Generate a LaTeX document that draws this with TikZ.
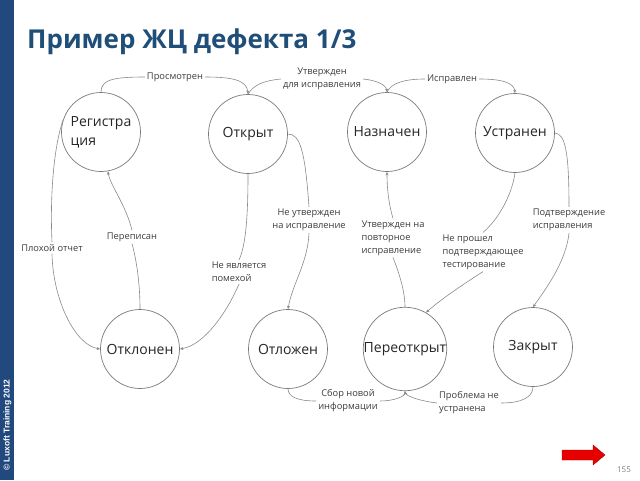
\documentclass[tikz,border=0pt]{standalone}
\usepackage{fontspec}
\setmainfont{Open Sans}
\newfontfamily\arialf{Liberation Sans}
\usetikzlibrary{arrows.meta}
\definecolor{titleblue}{HTML}{1F4E79}
\definecolor{barblue}{HTML}{22497E}
\definecolor{linegray}{HTML}{8A8A8A}
\definecolor{circgray}{HTML}{7A7A7A}
\definecolor{textgray}{HTML}{262626}
\definecolor{lblgray}{HTML}{3C3C3C}
\definecolor{arrred}{HTML}{E60000}
\definecolor{arrdark}{HTML}{B00000}
\begin{document}
\begin{tikzpicture}[x=1pt,y=-1pt,
 state/.style={circle,draw=circgray,line width=0.7pt,minimum size=79pt,inner sep=0pt,
   font=\fontsize{14}{19}\selectfont,text=textgray},
 lbl/.style={font=\fontsize{9.3}{13}\selectfont,text=lblgray,inner sep=2pt,align=left},
 lblc/.style={lbl,align=center},
 conn/.style={draw=linegray,line width=0.6pt},
 arr/.style={conn,-{Stealth[length=3.5pt,width=3pt]}}
]
\useasboundingbox (0,0) rectangle (640,480);
\fill[white] (0,0) rectangle (640,480);
\fill[barblue] (0,0) rectangle (14,480);
\node[rotate=90,text=white,font=\arialf\bfseries\fontsize{8.5}{8.5}\selectfont,inner sep=0pt] (copy) at (7.5,425) {© Luxoft Training 2012};
\node[anchor=base west,text=titleblue,font=\bfseries\fontsize{26}{28}\selectfont,inner sep=0pt] (title) at (27,48) {Пример ЖЦ дефекта 1/3};

% states
\node[state,align=left] (R) at (101,132) {Регистра\\ция};
\node[state] (O) at (248,134) {Открыт};
\node[state] (N) at (387,132) {Назначен};
\node[state] (U) at (515,133) {Устранен};
\node[state] (Otk) at (140,349) {Отклонен};
\node[state] (Otl) at (288,349) {Отложен};
\node[state] (P) at (405,349) {Переоткрыт};
\node[state] (Z) at (533,347) {Закрыт};

% labels
\node[lbl] (LP) at (175,77) {Просмотрен};
\node[lblc] (LU) at (322,79) {Утвержден\\для исправления};
\node[lbl] (LI) at (452,79) {Исправлен};
\node[lbl] (LPO) at (52,248) {Плохой отчет};
\node[lbl] (LPe) at (132,237) {Переписан};
\node[lbl] (LN) at (239,272) {Не является\\помехой};
\node[lblc] (LNU) at (309,220) {Не утвержден\\на исправление};
\node[lbl] (LUP) at (393,238) {Утвержден на\\повторное\\исправление};
\node[lbl] (LNP) at (483,252) {Не прошел\\подтверждающее\\тестирование};
\node[lbl] (LPI) at (569,220) {Подтверждение\\исправления};
\node[lblc] (LS) at (348,401) {Сбор новой\\информации};
\node[lbl] (LPr) at (469,403) {Проблема не\\устранена};

% connectors
\draw[conn] (R.north) .. controls (101,80) and (112,77) .. (LP.west);
\draw[arr] (LP.east) .. controls (232,77) and (247,80) .. (O.north);

\draw[conn] (O.north) .. controls (254,85) and (262,81) .. (LU.west);
\draw[arr] (LU.east) .. controls (374,80) and (386,84) .. (N.north);

\draw[conn] (N.north) .. controls (391,83) and (405,79) .. (LI.west);
\draw[arr] (LI.east) .. controls (503,79) and (514,83) .. (U.north);

\draw[conn] (R.163) .. controls (53,150) and (50,200) .. (LPO.north);
\draw[arr] (LPO.south) .. controls (53,300) and (75,345) .. (Otk.west);

\draw[conn] (Otk.north) .. controls (140,285) and (137,262) .. (LPe.south);
\draw[arr] (LPe.north) .. controls (126,205) and (110,185) .. (R.-80);

\draw[conn] (O.south) .. controls (248,215) and (246,245) .. (LN.north);
\draw[arr] (LN.south) .. controls (228,310) and (205,345) .. (Otk.east);

\draw[conn] (O.east) .. controls (300,134) and (305,150) .. (LNU.north);
\draw[arr] (LNU.south) .. controls (308,262) and (292,285) .. (Otl.north);

\draw[conn] (P.north) .. controls (405,290) and (398,270) .. (LUP.south);
\draw[arr] (LUP.north) .. controls (389,205) and (387,190) .. (N.south);

\draw[conn] (U.south) .. controls (512,195) and (498,220) .. (LNP.north);
\draw[arr] (LNP.south) .. controls (462,285) and (440,300) .. (P.60);

\draw[conn] (U.east) .. controls (565,134) and (569,150) .. (LPI.north);
\draw[arr] (LPI.south) .. controls (566,262) and (545,290) .. (Z.north);

\draw[conn] (Otl.south) .. controls (288,396) and (296,401) .. (LS.west);
\draw[arr] (LS.east) .. controls (395,401) and (405,396) .. (P.south);

\draw[conn] (Z.south) .. controls (533,397) and (522,403) .. (LPr.east);
\draw[arr] (LPr.west) .. controls (420,401) and (406,396) .. (P.south);

% red arrow and page number
\filldraw[fill=arrred,draw=arrdark,line width=0.4pt] (562,450) -- (593,450) -- (593,445) -- (605,455) -- (593,465) -- (593,460) -- (562,460) -- cycle;
\node[text=gray,font=\fontsize{8}{8}\selectfont,inner sep=0pt] (pg) at (624,470) {155};
\end{tikzpicture}
\end{document}
